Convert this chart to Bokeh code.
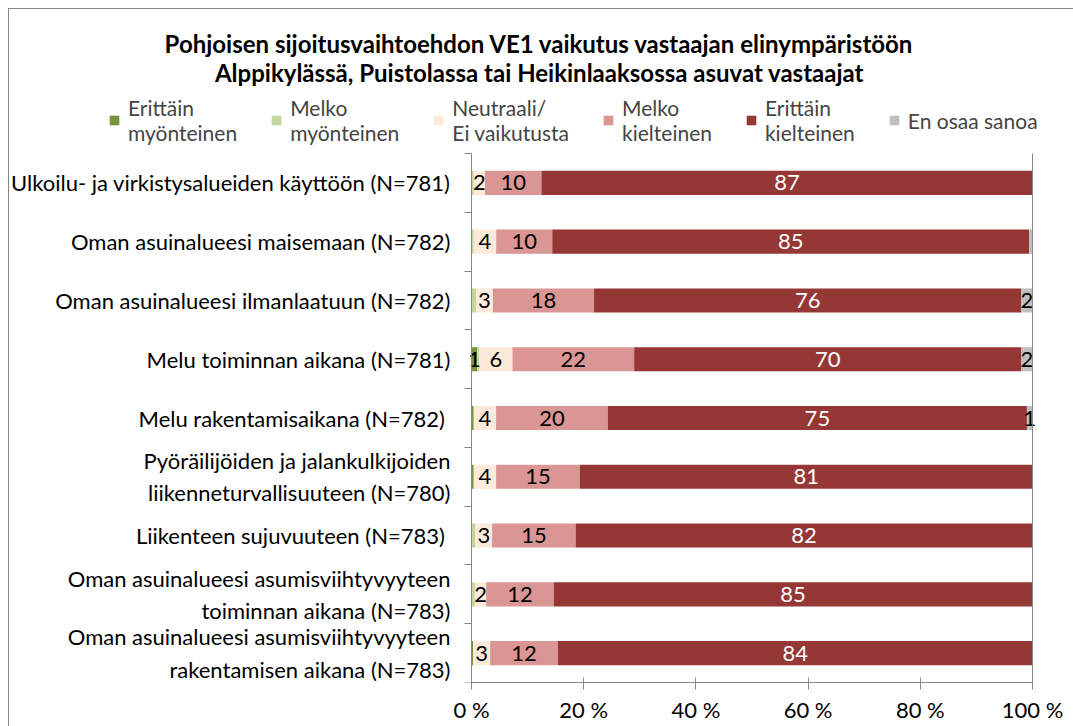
from bokeh.plotting import figure
from bokeh.layouts import column
from bokeh.models import (ColumnDataSource, Range1d, FixedTicker, Legend, LegendItem,
                          Label, PrintfTickFormatter)
from bokeh.core.properties import value
from bokeh.embed import file_html
from bokeh.resources import INLINE

FONT = "Lato"

# Survey items, top to bottom
categories = [
    "Ulkoilu- ja virkistysalueiden käyttöön (N=781)",
    "Oman asuinalueesi maisemaan (N=782)",
    "Oman asuinalueesi ilmanlaatuun (N=782)",
    "Melu toiminnan aikana (N=781)",
    "Melu rakentamisaikana  (N=782)",
    "Pyöräilijöiden ja jalankulkijoiden\nliikenneturvallisuuteen (N=780)",
    "Liikenteen sujuvuuteen  (N=783)",
    "Oman asuinalueesi asumisviihtyvyyteen\ntoiminnan aikana (N=783)",
    "Oman asuinalueesi asumisviihtyvyyteen\nrakentamisen aikana (N=783)",
]

series_labels = [
    "Erittäin\nmyönteinen",
    "Melko\nmyönteinen",
    "Neutraali/\nEi vaikutusta",
    "Melko\nkielteinen",
    "Erittäin\nkielteinen",
    "En osaa sanoa",
]

# Shares of answers (%)
erittain_myonteinen = [0.0, 0.0, 0.0, 1.0, 0.4, 0.4, 0.0, 0.0, 0.3]
melko_myonteinen = [0.4, 0.4, 0.8, 0.4, 0.0, 0.0, 0.7, 0.6, 0.0]
neutraali = [2, 4, 3, 6, 4, 4, 3, 2, 3]
melko_kielteinen = [10, 10, 18, 22, 20, 15, 15, 12, 12]
erittain_kielteinen = [87, 85, 76, 70, 75, 81, 82, 85, 84]
en_osaa_sanoa = [0.0, 0.6, 2.0, 2.0, 1.0, 0.0, 0.0, 0.0, 0.0]

series = [erittain_myonteinen, melko_myonteinen, neutraali,
          melko_kielteinen, erittain_kielteinen, en_osaa_sanoa]
colors = ["#77933C", "#C3D69B", "#FDEADA", "#D99694", "#953735", "#BFBFBF"]
label_colors = ["black", "black", "black", "black", "white", "black"]

x_ticks = [0, 20, 40, 60, 80, 100]

title_text = "Pohjoisen sijoitusvaihtoehdon VE1 vaikutus vastaajan elinympäristöön"
subtitle_text = "Alppikylässä, Puistolassa tai Heikinlaaksossa asuvat vastaajat"

GREY = "#868686"
W, H = 1073, 726
OFF = 9                      # page margin + chart border
CW, CH = W - OFF, H - OFF    # drawable area inside the border

# Page layout (pixels): bar area left/right edges, top of first row, axis line
BAR_L, BAR_R, ROWS_TOP, AXIS_Y = 471, 1032, 153, 682
BOTTOM = H - AXIS_Y

n = len(categories)
ys = list(range(1, n + 1))
totals = [sum(s[i] for s in series) for i in range(n)]

# Frame covers the whole drawable area; the scales place 0..100 % and the rows
px_x = (BAR_R - BAR_L) / 100.0
px_y = (AXIS_Y - ROWS_TOP) / n
x_range = Range1d((OFF - BAR_L) / px_x, 100 + (W - BAR_R) / px_x)
y_range = Range1d(n + 0.5, 0.5 - (ROWS_TOP - OFF) / px_y)

p = figure(width=CW, height=CH, output_backend="svg", toolbar_location=None,
           x_range=x_range, y_range=y_range,
           min_border_left=0, min_border_right=0, min_border_top=0,
           min_border_bottom=BOTTOM)
p.title.visible = False
p.outline_line_color = None
p.xgrid.visible = False
p.ygrid.visible = False

# 100 % stacked bars
left = [0.0] * n
items = []
label_x, label_y, label_t, label_c = [], [], [], []
for k, vals in enumerate(series):
    shares = [vals[i] / totals[i] * 100 for i in range(n)]
    right = [left[i] + shares[i] for i in range(n)]
    src = ColumnDataSource(dict(y=ys, left=left, right=right))
    r = p.hbar(y="y", left="left", right="right", height=0.41, source=src,
               fill_color=colors[k], line_color=None)
    items.append(LegendItem(label=series_labels[k], renderers=[r]))
    for i in range(n):
        if vals[i] >= 1:
            label_x.append(left[i] + shares[i] / 2)
            label_y.append(ys[i])
            label_t.append(str(int(round(vals[i]))))
            label_c.append(label_colors[k])
    left = right

lab_src = ColumnDataSource(dict(x=label_x, y=label_y, t=label_t, c=label_c))
p.text(x="x", y="y", text="t", source=lab_src, text_color="c",
       text_align="center", text_baseline="middle", text_font_size="22px",
       text_font=value(FONT))

# Right edge line of the 100 % scale
p.segment(x0=[100], y0=[0.5], x1=[100], y1=[n + 0.5], line_color=GREY, line_width=1)

# x axis limited to the 0..100 % scale
p.xaxis.bounds = (0, 100)
p.xaxis.ticker = FixedTicker(ticks=x_ticks)
p.xaxis.formatter = PrintfTickFormatter(format="%d %%")
p.xaxis.major_tick_in = 5
p.xaxis.major_tick_out = 7
p.xaxis.minor_tick_line_color = None
p.xaxis.axis_line_color = GREY
p.xaxis.major_tick_line_color = GREY
p.xaxis.major_label_text_font = FONT
p.xaxis.major_label_text_font_size = "22px"
p.xaxis.major_label_text_color = "black"
p.xaxis.major_label_standoff = 6

# category axis anchored at 0 %
p.yaxis.fixed_location = 0
p.yaxis.bounds = (0.5, n + 0.5)
p.yaxis.ticker = FixedTicker(ticks=ys, minor_ticks=[y - 0.5 for y in ys] + [n + 0.5])
p.yaxis.major_label_overrides = {y: c for y, c in zip(ys, categories)}
p.yaxis.major_tick_in = 0
p.yaxis.major_tick_out = 0
p.yaxis.minor_tick_in = 0
p.yaxis.minor_tick_out = 7
p.yaxis.minor_tick_line_color = GREY
p.yaxis.axis_line_color = GREY
p.yaxis.major_label_text_font = FONT
p.yaxis.major_label_text_font_size = "22px"
p.yaxis.major_label_text_color = "black"
p.yaxis.major_label_standoff = 14

# Legend row above the bars (screen offsets from the frame's bottom-left)
legend = Legend(items=items, orientation="horizontal",
                location=(108 - OFF, AXIS_Y - 145),
                label_text_font=FONT, label_text_font_size="21px",
                glyph_width=12, glyph_height=12, label_standoff=8,
                label_width=20, spacing=33, padding=0, margin=0,
                border_line_color=None, background_fill_alpha=0)
p.add_layout(legend, "center")

for text, canvas_y in [(title_text, 43), (subtitle_text, 72)]:
    p.add_layout(Label(x=539 - OFF, y=AXIS_Y - canvas_y,
                       x_units="screen", y_units="screen", text=text,
                       text_align="center", text_baseline="middle",
                       text_font=FONT, text_font_size="24px",
                       text_font_style="bold", text_color="black"))

layout = column(p, margin=(8, 0, 0, 8),
                styles={"border-left": f"1px solid {GREY}",
                        "border-top": f"1px solid {GREY}"})

open("out.html", "w").write(file_html(layout, INLINE))
